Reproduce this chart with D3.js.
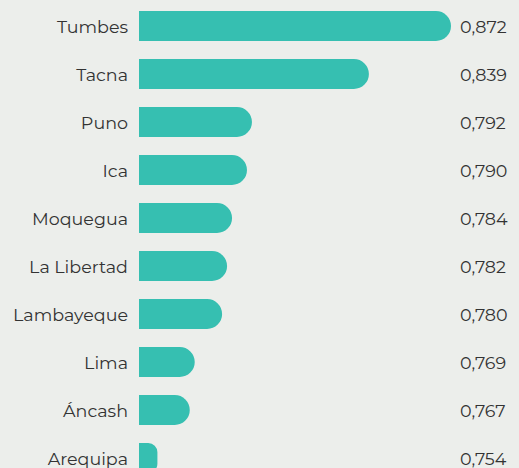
<!DOCTYPE html>
<html>
<head>
<meta charset="utf-8">
<script src="https://cdn.jsdelivr.net/npm/d3@7"></script>
<style>
  html, body { margin: 0; padding: 0; background: #eceeeb; }
  svg { display: block; }
  text { font-family: Montserrat, "Open Sans", sans-serif; fill: #333333; }
</style>
</head>
<body>
<svg width="519" height="468"></svg>
<script>
const regions = ["Tumbes", "Tacna", "Puno", "Ica", "Moquegua", "La Libertad", "Lambayeque", "Lima", "Áncash", "Arequipa"]
const idh = [0.872, 0.839, 0.792, 0.790, 0.784, 0.782, 0.780, 0.769, 0.767, 0.754]
const idhLabels = ["0,872", "0,839", "0,792", "0,790", "0,784", "0,782", "0,780", "0,769", "0,767", "0,754"]

const width = 519
const height = 468
const barClr = "#36bfb1"

const svg = d3.select("svg")

const x = d3.scaleLinear()
    .domain([0.7466, 0.872])
    .range([139, 451])

const y = d3.scaleBand()
    .domain(regions)
    .range([2, 482])
    .paddingInner(0.375)
    .paddingOuter(0.1875)

// flat on the left, round on the right
function pill(x0, x1, y0, h) {
    const w = x1 - x0
    const r = Math.min(h / 2, w / 2)
    return `M${x0},${y0} H${x1 - r} A${r},${r} 0 0 1 ${x1},${y0 + r}` +
        ` V${y0 + h - r} A${r},${r} 0 0 1 ${x1 - r},${y0 + h} H${x0} Z`
}

const rows = regions.map((d, i) => ({ name: d, v: idh[i], label: idhLabels[i] }))

svg.selectAll(".bar")
    .data(rows)
    .enter()
    .append("path")
    .attr("class", "bar")
    .attr("fill", barClr)
    .attr("d", d => pill(x.range()[0], x(d.v), y(d.name), y.bandwidth()))

svg.selectAll(".name")
    .data(rows)
    .enter()
    .append("text")
    .attr("class", "name")
    .attr("x", 128)
    .attr("y", d => y(d.name) + y.bandwidth() / 2)
    .attr("dy", "0.38em")
    .attr("text-anchor", "end")
    .attr("font-size", 17.5)
    .text(d => d.name)

svg.selectAll(".val")
    .data(rows)
    .enter()
    .append("text")
    .attr("class", "val")
    .attr("x", 460)
    .attr("y", d => y(d.name) + y.bandwidth() / 2)
    .attr("dy", "0.38em")
    .attr("font-size", 17.5)
    .text(d => d.label)
</script>
</body>
</html>
